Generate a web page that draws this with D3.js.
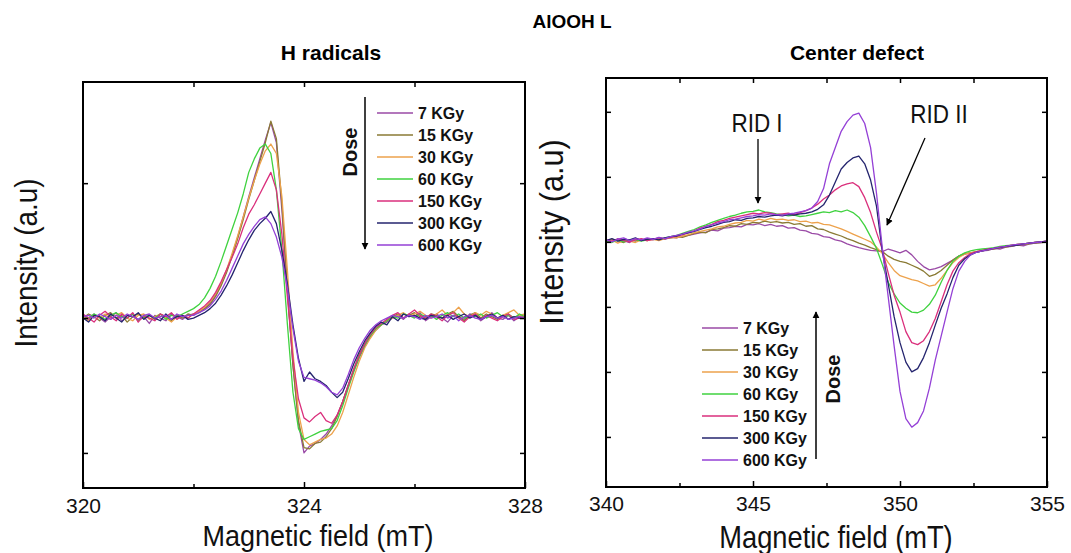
<!DOCTYPE html>
<html><head><meta charset="utf-8">
<script src="https://cdn.jsdelivr.net/npm/d3@7"></script>
<style>
html,body{margin:0;padding:0;background:#fff;}
text{font-family:"Liberation Sans",Arial,sans-serif;}
</style></head>
<body><svg id="c" width="1071" height="553"></svg>
<script>
// ---------------- DATA ----------------
const doses = ["7 KGy","15 KGy","30 KGy","60 KGy","150 KGy","300 KGy","600 KGy"];
const colors = ["#9a4aa6","#8a7a34","#eda24c","#3fd23f","#da2f7c","#24246e","#9440d6"];

const ticksH = [320,324,328];
const minorH = [322,326];
const ticksC = [340,345,350,355];
const minorC = [342.5,347.5,352.5];

const fieldH = [320,320.1,320.2,320.3,320.4,320.5,320.6,320.7,320.8,320.9,
321,321.1,321.2,321.3,321.4,321.5,321.6,321.7,321.8,321.9,
322,322.1,322.2,322.3,322.4,322.5,322.6,322.7,322.8,322.9,
323,323.1,323.2,323.3,323.4,323.5,323.6,323.7,323.8,323.9,
324,324.1,324.2,324.3,324.4,324.5,324.6,324.7,324.8,324.9,
325,325.1,325.2,325.3,325.4,325.5,325.6,325.7,325.8,325.9,
326,326.1,326.2,326.3,326.4,326.5,326.6,326.7,326.8,326.9,
327,327.1,327.2,327.3,327.4,327.5,327.6,327.7,327.8,327.9,328];

const hRad7 = [0.02,-0.01,0.03,0.00,-0.03,0.01,0.04,-0.02,0.00,0.03,-0.02,0.01,-0.04,0.02,0.00,-0.02,0.03,0.01,-0.01,0.02,
0.03,0.04,0.07,0.11,0.17,0.25,0.35,0.47,0.60,0.75,
0.90,1.04,1.18,1.32,1.45,1.30,0.80,0.20,-0.35,-0.78,
-1.00,-0.95,-0.93,-0.90,-0.86,-0.80,-0.72,-0.62,-0.50,-0.39,
-0.29,-0.21,-0.14,-0.09,-0.05,-0.03,0.00,0.02,-0.01,0.03,
0.01,0.04,-0.02,0.01,0.03,0.00,-0.03,0.02,0.01,-0.01,
0.03,0.02,-0.02,0.01,0.04,0.00,-0.01,0.02,-0.02,0.01,0.00];
const hRad15 = [0.00,0.03,0.01,-0.02,0.02,0.04,0.00,0.02,-0.03,0.01,0.03,0.00,0.02,-0.01,0.03,0.01,-0.02,0.02,0.00,0.03,
0.02,0.05,0.07,0.10,0.16,0.24,0.34,0.46,0.59,0.73,
0.88,1.02,1.16,1.30,1.46,1.33,0.85,0.22,-0.35,-0.76,
-0.96,-0.97,-0.93,-0.92,-0.88,-0.82,-0.73,-0.62,-0.50,-0.38,
-0.27,-0.19,-0.13,-0.08,-0.05,-0.02,0.01,0.03,0.00,0.02,
0.04,0.01,-0.01,0.03,0.02,0.00,0.03,0.05,0.01,-0.02,
0.02,0.04,0.00,0.03,0.01,-0.01,0.02,0.03,0.00,0.02,0.01];
const hRad30 = [0.01,-0.02,0.02,0.00,0.03,-0.01,0.02,0.04,0.00,-0.02,0.02,0.03,-0.01,0.01,0.03,0.00,-0.03,0.01,0.02,0.00,
0.03,0.05,0.08,0.12,0.18,0.26,0.36,0.48,0.61,0.75,
0.89,1.02,1.14,1.24,1.29,1.22,0.90,0.35,-0.25,-0.70,
-0.90,-0.94,-0.92,-0.90,-0.89,-0.86,-0.80,-0.70,-0.57,-0.44,
-0.32,-0.22,-0.15,-0.09,-0.05,-0.02,0.00,0.02,0.04,0.01,
0.03,0.05,0.02,0.00,0.03,0.06,0.02,0.04,0.08,0.03,
0.01,0.04,0.02,0.05,0.03,0.00,0.02,0.04,0.06,0.02,0.03];
const hRad60 = [0.02,0.00,0.03,0.01,-0.01,0.02,0.04,0.01,0.00,0.03,-0.02,0.01,0.02,0.00,0.03,-0.01,0.02,0.01,0.03,0.05,
0.07,0.10,0.15,0.22,0.31,0.42,0.54,0.66,0.78,0.92,
1.08,1.18,1.26,1.29,1.22,0.95,0.50,-0.05,-0.55,-0.82,
-0.90,-0.88,-0.86,-0.84,-0.83,-0.82,-0.76,-0.65,-0.52,-0.40,
-0.29,-0.20,-0.13,-0.08,-0.05,-0.02,0.01,0.00,0.03,0.02,
0.00,0.03,0.01,0.02,-0.01,0.02,0.04,0.01,0.03,0.00,
0.02,0.01,0.03,0.00,0.02,0.04,0.01,0.02,0.00,0.03,0.01];
const hRad150 = [0.03,0.00,-0.03,0.02,0.05,0.01,-0.02,0.03,0.00,0.04,-0.03,0.02,0.00,-0.02,0.03,0.01,0.04,-0.01,0.02,0.00,
0.03,0.06,0.09,0.13,0.19,0.27,0.36,0.45,0.55,0.67,
0.77,0.84,0.92,1.00,1.08,0.95,0.62,0.15,-0.30,-0.60,
-0.74,-0.77,-0.73,-0.70,-0.76,-0.78,-0.72,-0.62,-0.50,-0.38,
-0.28,-0.19,-0.12,-0.07,-0.04,-0.01,0.02,0.04,0.00,0.03,
0.06,0.02,0.00,0.03,0.01,-0.02,0.02,0.04,0.00,-0.03,
0.01,0.03,-0.01,0.02,0.00,-0.02,0.01,0.03,-0.01,0.00,0.01];
const hRad300 = [0.00,-0.03,0.02,0.01,-0.02,0.03,0.00,-0.03,0.02,0.01,0.04,-0.01,0.02,0.00,-0.02,0.03,-0.01,0.01,0.02,-0.01,
0.00,0.02,0.04,0.07,0.11,0.17,0.24,0.32,0.41,0.50,
0.58,0.65,0.70,0.74,0.79,0.70,0.50,0.25,-0.05,-0.30,
-0.47,-0.40,-0.45,-0.47,-0.50,-0.55,-0.59,-0.55,-0.45,-0.34,
-0.25,-0.17,-0.11,-0.06,-0.03,-0.05,0.01,-0.02,0.03,0.01,
0.02,0.00,-0.01,0.02,0.01,0.00,0.02,-0.01,0.01,0.03,
0.00,0.02,-0.01,0.01,0.03,0.00,0.02,-0.01,0.01,0.00,0.00];
const hRad600 = [0.01,0.02,0.00,0.03,0.01,-0.01,0.02,0.00,0.03,0.01,-0.01,0.02,0.03,0.00,0.01,0.02,-0.01,0.03,0.01,0.02,
0.02,0.04,0.06,0.09,0.14,0.20,0.28,0.37,0.46,0.55,
0.62,0.68,0.73,0.75,0.70,0.60,0.45,0.22,-0.08,-0.32,
-0.44,-0.45,-0.46,-0.48,-0.51,-0.55,-0.57,-0.52,-0.42,-0.31,
-0.22,-0.15,-0.09,-0.05,-0.02,0.00,0.02,0.01,0.00,0.02,
0.01,-0.01,0.02,0.00,0.01,0.03,0.00,0.02,-0.02,0.01,
0.02,0.00,-0.01,0.01,0.02,0.00,0.01,-0.01,0.00,0.01,0.00];

const fieldC = [340,340.2,340.4,340.6,340.8,341,341.2,341.4,341.6,341.8,
342,342.2,342.4,342.6,342.8,343,343.2,343.4,343.6,343.8,
344,344.2,344.4,344.6,344.8,345,345.2,345.4,345.6,345.8,
346,346.2,346.4,346.6,346.8,347,347.2,347.4,347.6,347.8,
348,348.2,348.4,348.6,348.8,349,349.2,349.4,349.6,349.8,
350,350.2,350.4,350.6,350.8,351,351.2,351.4,351.6,351.8,
352,352.2,352.4,352.6,352.8,353,353.2,353.4,353.6,353.8,
354,354.2,354.4,354.6,354.8,355];

const cDef7 = [0.03,0.00,0.05,0.02,-0.01,0.04,0.02,0.05,0.03,0.06,
0.04,0.07,0.06,0.09,0.10,0.12,0.14,0.15,0.18,0.17,
0.21,0.22,0.24,0.23,0.27,0.26,0.28,0.25,0.27,0.24,
0.25,0.21,0.22,0.18,0.17,0.13,0.12,0.08,0.07,0.03,
0.01,-0.03,-0.06,-0.09,-0.11,-0.13,-0.14,-0.15,-0.11,-0.14,
-0.17,-0.13,-0.20,-0.30,-0.38,-0.43,-0.41,-0.38,-0.33,-0.28,
-0.22,-0.19,-0.17,-0.16,-0.14,-0.13,-0.10,-0.11,-0.08,-0.07,
-0.05,-0.06,-0.03,-0.02,-0.01,0.00];
const cDef15 = [0.01,0.04,0.02,-0.01,0.03,0.01,0.04,0.02,0.05,0.03,
0.05,0.06,0.08,0.07,0.10,0.13,0.15,0.14,0.19,0.20,
0.22,0.25,0.24,0.28,0.27,0.30,0.29,0.32,0.30,0.31,
0.29,0.30,0.27,0.28,0.24,0.25,0.20,0.19,0.15,0.12,
0.09,0.05,0.02,-0.02,-0.05,-0.09,-0.12,-0.15,-0.22,-0.27,
-0.30,-0.32,-0.36,-0.40,-0.45,-0.53,-0.50,-0.44,-0.36,-0.28,
-0.22,-0.18,-0.17,-0.15,-0.14,-0.12,-0.11,-0.09,-0.08,-0.06,
-0.05,-0.04,-0.03,-0.02,-0.01,0.00];
const cDef30 = [0.00,0.03,-0.02,0.02,0.01,-0.01,0.03,0.02,0.04,0.02,
0.05,0.07,0.06,0.09,0.11,0.14,0.16,0.18,0.20,0.23,
0.24,0.27,0.29,0.30,0.33,0.32,0.35,0.33,0.36,0.34,
0.35,0.33,0.34,0.31,0.32,0.29,0.30,0.27,0.26,0.23,
0.20,0.16,0.12,0.08,0.04,0.00,-0.08,-0.18,-0.32,-0.44,
-0.52,-0.55,-0.58,-0.60,-0.64,-0.68,-0.66,-0.56,-0.44,-0.32,
-0.24,-0.19,-0.17,-0.15,-0.13,-0.12,-0.10,-0.09,-0.07,-0.06,
-0.04,-0.04,-0.02,-0.01,0.00,0.01];
const cDef60 = [0.02,-0.01,0.03,0.00,0.02,0.04,0.01,0.03,0.05,0.04,
0.06,0.08,0.10,0.13,0.16,0.19,0.23,0.26,0.30,0.33,
0.36,0.39,0.41,0.44,0.46,0.47,0.49,0.46,0.45,0.43,
0.42,0.40,0.41,0.39,0.40,0.42,0.44,0.46,0.45,0.48,
0.46,0.49,0.45,0.38,0.25,0.08,-0.10,-0.35,-0.62,-0.80,
-0.94,-1.02,-1.08,-1.09,-1.05,-0.96,-0.82,-0.62,-0.44,-0.30,
-0.22,-0.17,-0.14,-0.12,-0.11,-0.10,-0.09,-0.07,-0.06,-0.05,
-0.04,-0.03,-0.02,-0.01,0.00,0.01];
const cDef150 = [0.03,0.01,0.04,0.02,0.00,0.03,0.05,0.02,0.04,0.06,
0.05,0.07,0.09,0.11,0.14,0.17,0.21,0.24,0.27,0.31,
0.33,0.36,0.38,0.40,0.42,0.44,0.43,0.45,0.44,0.42,
0.43,0.44,0.42,0.45,0.48,0.52,0.58,0.66,0.72,0.80,
0.86,0.89,0.91,0.85,0.68,0.45,0.15,-0.12,-0.48,-0.82,
-1.08,-1.38,-1.55,-1.58,-1.52,-1.38,-1.18,-0.92,-0.66,-0.45,
-0.32,-0.24,-0.18,-0.15,-0.13,-0.11,-0.10,-0.08,-0.07,-0.05,
-0.04,-0.03,-0.02,-0.01,0.00,0.01];
const cDef300 = [0.02,0.05,0.01,0.04,0.03,0.06,0.02,0.04,0.05,0.03,
0.06,0.08,0.09,0.12,0.14,0.16,0.19,0.22,0.24,0.27,
0.30,0.31,0.34,0.33,0.36,0.37,0.39,0.38,0.40,0.41,
0.40,0.42,0.41,0.43,0.44,0.46,0.50,0.57,0.72,0.92,
1.12,1.22,1.29,1.32,1.20,0.95,0.55,-0.15,-0.65,-1.15,
-1.55,-1.85,-2.00,-1.95,-1.78,-1.55,-1.28,-1.02,-0.80,-0.55,
-0.36,-0.26,-0.20,-0.16,-0.14,-0.12,-0.10,-0.09,-0.07,-0.06,
-0.05,-0.03,-0.02,-0.01,0.00,0.01];
const cDef600 = [0.03,0.00,0.04,0.06,0.02,0.05,0.03,0.06,0.04,0.07,
0.05,0.08,0.10,0.12,0.15,0.17,0.20,0.24,0.26,0.29,
0.31,0.34,0.35,0.37,0.39,0.40,0.42,0.41,0.43,0.42,
0.41,0.43,0.44,0.46,0.48,0.52,0.62,0.82,1.20,1.45,
1.70,1.85,1.95,1.98,1.82,1.45,0.75,-0.10,-0.85,-1.60,
-2.30,-2.72,-2.85,-2.78,-2.60,-2.25,-1.82,-1.45,-1.08,-0.72,
-0.45,-0.30,-0.20,-0.16,-0.14,-0.12,-0.10,-0.08,-0.07,-0.05,
-0.04,-0.03,-0.02,-0.01,0.00,0.01];

const seriesH = [hRad7,hRad15,hRad30,hRad60,hRad150,hRad300,hRad600];
const seriesC = [cDef7,cDef15,cDef30,cDef60,cDef150,cDef300,cDef600];

// ---------------- DRAW ----------------
const svg = d3.select("#c");

function panel(o){
  const x = d3.scaleLinear().domain(o.xDomain).range([o.x0,o.x1]);
  const y = d3.scaleLinear().domain(o.yDomain).range([o.y1,o.y0]);
  const g = svg.append("g");
  const cid = "clip"+o.id;
  svg.append("defs").append("clipPath").attr("id",cid)
    .append("rect").attr("x",o.x0).attr("y",o.y0).attr("width",o.x1-o.x0).attr("height",o.y1-o.y0);
  const line = d3.line().x((d,i)=>x(o.xs[i])).y(d=>y(d));
  const cg = g.append("g").attr("clip-path","url(#"+cid+")");
  o.series.forEach((s,k)=>{
    cg.append("path").attr("d",line(s)).attr("fill","none")
      .attr("stroke",colors[k]).attr("stroke-width",1.3).attr("stroke-linejoin","round");
  });
  const bx = g.append("g").attr("transform",`translate(0,${o.y1})`)
    .call(d3.axisBottom(x).tickValues(o.ticks).tickSize(-6).tickPadding(o.pad).tickFormat(d3.format("")));
  bx.selectAll("text").attr("font-size",21).attr("fill","#111").style("font-family","'Liberation Sans',Arial,sans-serif");
  const bm = g.append("g").attr("transform",`translate(0,${o.y1})`)
    .call(d3.axisBottom(x).tickValues(o.minor).tickSize(-4).tickFormat(""));
  const tx = g.append("g").attr("transform",`translate(0,${o.y0})`)
    .call(d3.axisTop(x).tickValues(o.topTicks).tickSize(-5).tickFormat(""));
  const ly = g.append("g").attr("transform",`translate(${o.x0},0)`)
    .call(d3.axisLeft(y).tickValues(o.yTicks).tickSize(-5).tickFormat(""));
  const ry = g.append("g").attr("transform",`translate(${o.x1},0)`)
    .call(d3.axisRight(y).tickValues(o.yTicks).tickSize(-5).tickFormat(""));
  [bx,bm,tx,ly,ry].forEach(a=>{a.select(".domain").remove(); a.selectAll("line").attr("stroke","#000").attr("stroke-width",1.5);});
  g.append("rect").attr("x",o.x0).attr("y",o.y0).attr("width",o.x1-o.x0).attr("height",o.y1-o.y0)
    .attr("fill","none").attr("stroke","#000").attr("stroke-width",2);
  return {x,y,g};
}

const P1 = panel({id:1,x0:83,x1:525,y0:82,y1:488,xDomain:[320,328],yDomain:[-1.26,1.75],
  xs:fieldH,series:seriesH,ticks:ticksH,minor:minorH,topTicks:[322,324,326],yTicks:[-1,0,1],pad:10});
const P2 = panel({id:2,x0:606,x1:1047,y0:78,y1:487,xDomain:[340,355],yDomain:[-3.77,2.52],
  xs:fieldC,series:seriesC,ticks:ticksC,minor:minorC,topTicks:[342.5,345,347.5,350,352.5],yTicks:[-3,-2,-1,0,1,2],pad:9});

// titles
svg.append("text").attr("x",572).attr("y",28).attr("text-anchor","middle").attr("font-size",19).attr("font-weight","bold").text("AlOOH L");
svg.append("text").attr("x",331).attr("y",60).attr("text-anchor","middle").attr("font-size",21).attr("font-weight","bold").text("H radicals");
svg.append("text").attr("x",857).attr("y",60).attr("text-anchor","middle").attr("font-size",21).attr("font-weight","bold").text("Center defect");

// axis titles (slightly condensed like the reference)
svg.append("text").attr("transform","translate(318,546) scale(0.9,1)").attr("text-anchor","middle").attr("font-size",30).attr("fill","#111").text("Magnetic field (mT)");
svg.append("text").attr("transform","translate(836,548) scale(0.88,1)").attr("text-anchor","middle").attr("font-size",31).attr("fill","#111").text("Magnetic field (mT)");
svg.append("text").attr("transform","translate(37,263) rotate(-90) scale(0.9,1)").attr("text-anchor","middle").attr("font-size",31).attr("fill","#111").text("Intensity (a.u)");
svg.append("text").attr("transform","translate(563,232) rotate(-90) scale(0.9,1)").attr("text-anchor","middle").attr("font-size",34).attr("fill","#111").text("Intensity (a.u)");

// arrow marker
const defs = svg.append("defs");
defs.append("marker").attr("id","ah").attr("viewBox","0 0 10 10").attr("refX",9).attr("refY",5)
  .attr("markerWidth",7).attr("markerHeight",9).attr("markerUnits","userSpaceOnUse").attr("orient","auto")
  .append("path").attr("d","M0,0 L10,5 L0,10 Z").attr("fill","#000");

// legends
function legend(x0,yTop,arrowX,arrowFrom,arrowTo,doseX,doseY){
  const lg = svg.append("g");
  doses.forEach((d,k)=>{
    const yy = yTop + k*22;
    lg.append("line").attr("x1",x0).attr("x2",x0+36).attr("y1",yy).attr("y2",yy)
      .attr("stroke",colors[k]).attr("stroke-width",1.6);
    lg.append("text").attr("transform",`translate(${x0+41},${yy+6}) scale(0.94,1)`).attr("font-size",17).attr("font-weight","bold").attr("fill","#111").text(d);
  });
  lg.append("line").attr("x1",arrowX).attr("x2",arrowX).attr("y1",arrowFrom).attr("y2",arrowTo)
    .attr("stroke","#000").attr("stroke-width",1.5).attr("marker-end","url(#ah)");
  lg.append("text").attr("transform",`translate(${doseX},${doseY}) rotate(-90)`).attr("text-anchor","middle")
    .attr("font-size",20).attr("font-weight","bold").attr("fill","#111").text("Dose");
}
legend(377,113,365,97,249,357,152);
legend(702,328,816,459,312,840,379);

// RID annotations
svg.append("text").attr("transform","translate(757,132) scale(0.9,1)").attr("text-anchor","middle").attr("font-size",25).attr("fill","#111").text("RID I");
svg.append("line").attr("x1",758).attr("y1",139).attr("x2",758).attr("y2",203).attr("stroke","#000").attr("stroke-width",1.3).attr("marker-end","url(#ah)");
svg.append("text").attr("transform","translate(939,123) scale(0.9,1)").attr("text-anchor","middle").attr("font-size",25).attr("fill","#111").text("RID II");
svg.append("line").attr("x1",925).attr("y1",138).attr("x2",887).attr("y2",225).attr("stroke","#000").attr("stroke-width",1.3).attr("marker-end","url(#ah)");
</script></body></html>
